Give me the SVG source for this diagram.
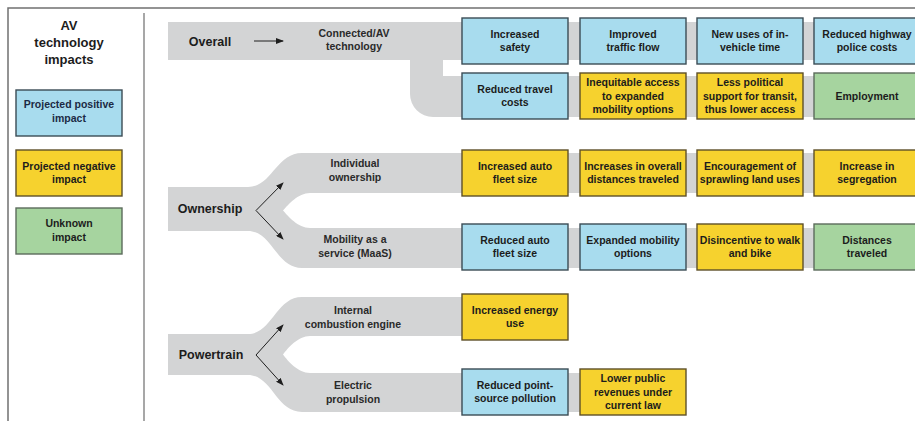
<svg xmlns="http://www.w3.org/2000/svg" width="915" height="421" viewBox="0 0 915 421">
<style>
  text { font-family: "Liberation Sans", Arial, Helvetica, sans-serif; font-weight: bold; text-anchor: middle; fill: #1c1c1c; }
  .t { font-size: 10.5px; }
  .sec { font-size: 12.5px; }
  .title { font-size: 13px; }
  .lbl { font-size: 10.5px; fill: #2a2a2a; }
  .pos { fill: #a8dcee; stroke: #3b4c55; stroke-width: 1.4; }
  .neg { fill: #f6d22e; stroke: #5e5028; stroke-width: 1.4; }
  .unk { fill: #a6d49f; stroke: #5c6c5c; stroke-width: 1.4; }
  .band { fill: #d3d4d5; }
  .frame { stroke: #707070; stroke-width: 1.5; fill: none; }
  .arr { stroke: #1e1e1e; stroke-width: 1; fill: none; marker-end: url(#ah); }
</style>
<defs>
  <marker id="ah" markerWidth="8" markerHeight="6" refX="7" refY="3" orient="auto" markerUnits="userSpaceOnUse">
    <path d="M0,0 L8,3 L0,6 Z" fill="#1e1e1e"/>
  </marker>
</defs>
<rect x="0" y="0" width="915" height="421" fill="#ffffff"/>
<g id="frame">
  <path class="frame" d="M8,421 V8 H915"/>
  <line x1="144" y1="13" x2="144" y2="421" stroke="#8a8a8a" stroke-width="1.5"/>
</g>
<g id="legend">
  <text class="title" x="69" y="30">AV</text>
  <text class="title" x="69" y="47">technology</text>
  <text class="title" x="69" y="64">impacts</text>
  <g id="legend-positive">
    <rect class="pos" x="16" y="90" width="106" height="46"/>
    <text class="t" x="69" y="108" style="fill:#1c2a44">Projected positive</text>
    <text class="t" x="69" y="122" style="fill:#1c2a44">impact</text>
  </g>
  <g id="legend-negative">
    <rect class="neg" x="16" y="150" width="106" height="46"/>
    <text class="t" x="69" y="169.5">Projected negative</text>
    <text class="t" x="69" y="183">impact</text>
  </g>
  <g id="legend-unknown">
    <rect class="unk" x="16" y="208" width="106" height="46"/>
    <text class="t" x="69" y="227">Unknown</text>
    <text class="t" x="69" y="241">impact</text>
  </g>
</g>
<g id="bands">
  <path class="band" d="M168,22 H915 V60 H443 V76 H915 V117 H433 A23,23 0 0 1 410,94 V60 H168 Z"/>
  <path class="band" d="M168,187 H248 C272,187 276,153 302,153 H915 V193 H310 C298,193 288,205 283,210.5 C288,216 298,228 310,228 H915 V268 H302 C276,268 272,231 248,231 H168 Z"/>
  <path class="band" d="M168,334 H248 C272,334 276,297 302,297 H560 V336 H310 C298,336 288,348 283,354.5 C288,361 298,373 310,373 H680 V412 H302 C276,412 272,375 248,375 H168 Z"/>
</g>
<g id="section-labels">
  <g id="overall"><text class="sec" x="210" y="46">Overall</text></g>
  <g id="connected-av"><text class="lbl" x="354" y="37">Connected/AV</text><text class="lbl" x="354" y="50">technology</text></g>
  <g id="ownership"><text class="sec" x="210" y="213">Ownership</text></g>
  <g id="individual-ownership"><text class="lbl" x="355" y="167">Individual</text><text class="lbl" x="355" y="181">ownership</text></g>
  <g id="maas"><text class="lbl" x="355" y="243">Mobility as a</text><text class="lbl" x="355" y="257">service (MaaS)</text></g>
  <g id="powertrain"><text class="sec" x="211" y="359">Powertrain</text></g>
  <g id="ice"><text class="lbl" x="353" y="314">Internal</text><text class="lbl" x="353" y="328">combustion engine</text></g>
  <g id="electric"><text class="lbl" x="353" y="389">Electric</text><text class="lbl" x="353" y="403">propulsion</text></g>
</g>
<g id="connectors">
  <line class="arr" x1="254" y1="41" x2="283" y2="41"/>
  <line class="arr" x1="256" y1="210.5" x2="283" y2="183"/>
  <line class="arr" x1="256" y1="210.5" x2="283" y2="239"/>
  <line class="arr" x1="256" y1="355" x2="283" y2="325"/>
  <line class="arr" x1="256" y1="355" x2="283" y2="385"/>
</g>
<g id="impacts">
  <g id="increased-safety"><rect class="pos" x="462" y="18" width="106" height="46"/><text class="t" x="515" y="37.5">Increased</text><text class="t" x="515" y="51">safety</text></g>
  <g id="improved-traffic-flow"><rect class="pos" x="580" y="18" width="106" height="46"/><text class="t" x="633" y="37.5">Improved</text><text class="t" x="633" y="51">traffic flow</text></g>
  <g id="new-uses"><rect class="pos" x="697" y="18" width="106" height="46"/><text class="t" x="750" y="37.5">New uses of in-</text><text class="t" x="750" y="51">vehicle time</text></g>
  <g id="reduced-police"><rect class="pos" x="814" y="18" width="106" height="46"/><text class="t" x="867" y="37.5">Reduced highway</text><text class="t" x="867" y="51">police costs</text></g>

  <g id="reduced-travel-costs"><rect class="pos" x="462" y="73" width="106" height="46"/><text class="t" x="515" y="92.5">Reduced travel</text><text class="t" x="515" y="106">costs</text></g>
  <g id="inequitable-access"><rect class="neg" x="580" y="73" width="106" height="46"/><text class="t" x="633" y="86">Inequitable access</text><text class="t" x="633" y="99.5">to expanded</text><text class="t" x="633" y="113">mobility options</text></g>
  <g id="less-political-support"><rect class="neg" x="697" y="73" width="106" height="46"/><text class="t" x="750" y="86">Less political</text><text class="t" x="750" y="99.5">support for transit,</text><text class="t" x="750" y="113">thus lower access</text></g>
  <g id="employment"><rect class="unk" x="814" y="73" width="106" height="46"/><text class="t" x="867" y="100">Employment</text></g>

  <g id="increased-fleet"><rect class="neg" x="462" y="150" width="106" height="46"/><text class="t" x="515" y="169.5">Increased auto</text><text class="t" x="515" y="183">fleet size</text></g>
  <g id="increased-distances"><rect class="neg" x="580" y="150" width="106" height="46"/><text class="t" x="633" y="169.5">Increases in overall</text><text class="t" x="633" y="183">distances traveled</text></g>
  <g id="sprawl"><rect class="neg" x="697" y="150" width="106" height="46"/><text class="t" x="750" y="169.5">Encouragement of</text><text class="t" x="750" y="183">sprawling land uses</text></g>
  <g id="segregation"><rect class="neg" x="814" y="150" width="106" height="46"/><text class="t" x="867" y="169.5">Increase in</text><text class="t" x="867" y="183">segregation</text></g>

  <g id="reduced-fleet"><rect class="pos" x="462" y="224" width="106" height="46"/><text class="t" x="515" y="243.5">Reduced auto</text><text class="t" x="515" y="257">fleet size</text></g>
  <g id="expanded-mobility"><rect class="pos" x="580" y="224" width="106" height="46"/><text class="t" x="633" y="243.5">Expanded mobility</text><text class="t" x="633" y="257">options</text></g>
  <g id="disincentive"><rect class="neg" x="697" y="224" width="106" height="46"/><text class="t" x="750" y="243.5">Disincentive to walk</text><text class="t" x="750" y="257">and bike</text></g>
  <g id="distances-traveled"><rect class="unk" x="814" y="224" width="106" height="46"/><text class="t" x="867" y="243.5">Distances</text><text class="t" x="867" y="257">traveled</text></g>

  <g id="energy-use"><rect class="neg" x="462" y="294" width="106" height="46"/><text class="t" x="515" y="313.5">Increased energy</text><text class="t" x="515" y="327">use</text></g>

  <g id="reduced-pollution"><rect class="pos" x="462" y="369" width="106" height="46"/><text class="t" x="515" y="388.5">Reduced point-</text><text class="t" x="515" y="402">source pollution</text></g>
  <g id="lower-revenues"><rect class="neg" x="580" y="369" width="106" height="46"/><text class="t" x="633" y="382">Lower public</text><text class="t" x="633" y="395.5">revenues under</text><text class="t" x="633" y="409">current law</text></g>
</g>
</svg>
